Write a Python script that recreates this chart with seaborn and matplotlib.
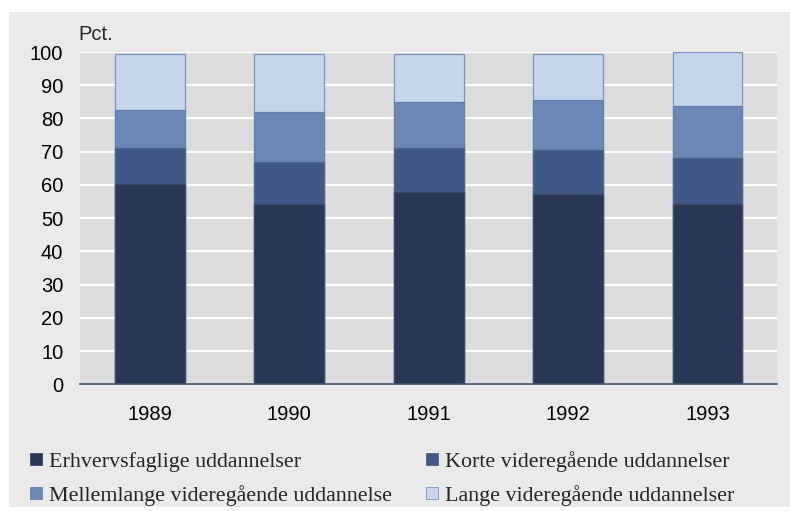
import matplotlib
matplotlib.use("Agg")
import matplotlib.pyplot as plt
import seaborn as sns
import pandas as pd
import numpy as np
from matplotlib.patches import Rectangle
from matplotlib.lines import Line2D

years = ["1989", "1990", "1991", "1992", "1993"]
series_names = ["Erhvervsfaglige uddannelser", "Korte videregående uddannelser",
                "Mellemlange videregående uddannelse", "Lange videregående uddannelser"]
erhverv = [60.2, 54.2, 57.8, 57.2, 54.2]
korte = [10.8, 12.7, 13.3, 13.3, 13.9]
mellem = [11.5, 15.1, 14.0, 15.2, 15.8]
lange = [17.0, 17.5, 14.4, 13.8, 16.2]
yticks = [0, 10, 20, 30, 40, 50, 60, 70, 80, 90, 100]

colors = ["#283756", "#3F5886", "#6A87B6", "#C6D6EA"]
edges = ["#3d4a66", "#4d6490", "#6580b0", "#7895c6"]

sns.set_theme(style="white")
plt.rcParams['font.family'] = ['Liberation Sans', 'DejaVu Sans']

fig = plt.figure(figsize=(7.9, 5.11), dpi=100)
fig.patch.set_facecolor("white")
fig.patches.append(Rectangle((9/790, 4/511), 781/790, 495/511, transform=fig.transFigure,
                             facecolor="#EAEAEA", edgecolor="none", zorder=-10))

ax = fig.add_axes([80/790, (511-384.3)/511, 697.3/790, 332.3/511])
ax.set_facecolor("#DCDCDC")

layers = [erhverv, korte, mellem, lange]
cum = np.cumsum(np.array(layers), axis=0)
for i in range(3, -1, -1):
    df = pd.DataFrame({"year": years, "value": cum[i]})
    sns.barplot(data=df, x="year", y="value", color=colors[i], saturation=1,
                width=0.5, edgecolor=edges[i], linewidth=0.9, ax=ax, zorder=3)

ax.set_ylim(0, 100)
ax.set_xlim(-0.5, 4.5)
ax.set_yticks(yticks)
ax.yaxis.grid(True, color="white", linewidth=1.6, zorder=0)
ax.set_axisbelow(True)
for s in ["top", "right", "left"]:
    ax.spines[s].set_visible(False)
ax.spines["bottom"].set_color("#44546A")
ax.spines["bottom"].set_linewidth(1.2)
ax.spines["bottom"].set_zorder(5)
ax.tick_params(axis="both", length=0, labelsize=14.5, colors="black")
ax.tick_params(axis="y", pad=12)
ax.tick_params(axis="x", pad=15)
ax.set_xlabel("")
ax.set_ylabel("")

fig.text(78/790, 1 - 34/511, "Pct.", fontsize=14.5, va="center", ha="left")

handles = [Line2D([], [], marker="s", linestyle="none", markersize=9,
                  markerfacecolor=c, markeredgecolor=e, markeredgewidth=0.6)
           for c, e in zip(colors, edges)]
order = [0, 2, 1, 3]
leg = fig.legend([handles[i] for i in order], [series_names[i] for i in order], ncol=2,
                 loc="upper left", bbox_to_anchor=(14/790, 1 - 442/511),
                 frameon=False, handletextpad=0.0, columnspacing=1.2,
                 labelspacing=0.6, handlelength=1.2, borderaxespad=0,
                 prop={"family": "Liberation Serif", "size": 15.8})

fig.savefig("out.png", dpi=100, facecolor=fig.get_facecolor())
